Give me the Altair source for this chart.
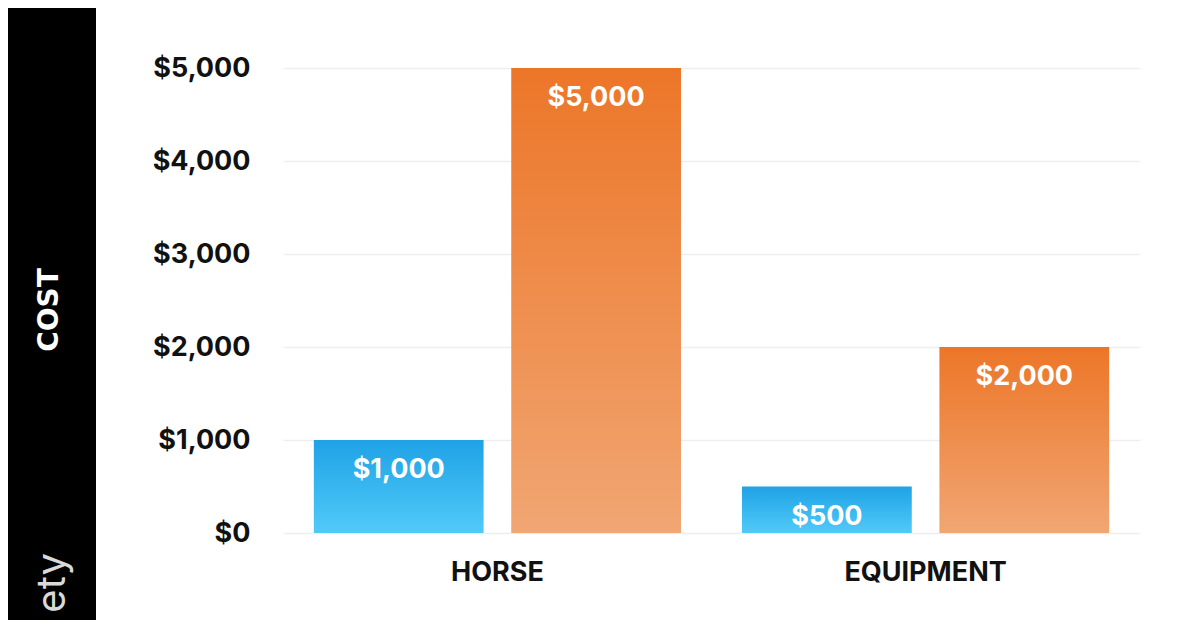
import altair as alt
import pandas as pd

categories = ["HORSE", "EQUIPMENT"]
series = ["Low", "High"]
low_values = [1000, 500]
high_values = [5000, 2000]

rows = []
for i, c in enumerate(categories):
    rows.append({"item": c, "level": series[0], "cost": low_values[i]})
    rows.append({"item": c, "level": series[1], "cost": high_values[i]})
df = pd.DataFrame(rows)

FONT = "Inter"

x_enc = alt.X("item:N", sort=categories,
              scale=alt.Scale(paddingInner=0.1425, paddingOuter=0.072),
              axis=alt.Axis(title=None, labelAngle=0, labelFont=FONT, labelFontSize=27,
                            labelFontWeight="bold", labelColor="#111", labelPadding=26,
                            ticks=False, domain=False))
xo_enc = alt.XOffset("level:N", sort=series,
                     scale=alt.Scale(paddingInner=0.14, paddingOuter=0))
y_enc = alt.Y("cost:Q", scale=alt.Scale(domain=[0, 5000]),
              axis=alt.Axis(title=None, values=[0, 1000, 2000, 3000, 4000, 5000],
                            format="$,.0f", labelFont=FONT, labelFontSize=27,
                            labelFontWeight="bold", labelColor="#111", labelPadding=33,
                            ticks=False, domain=False, gridColor="#eeeeee", gridWidth=1.5))

def grad(top, bottom):
    return alt.Gradient(gradient="linear", x1=0, x2=0, y1=0, y2=1,
                        stops=[alt.GradientStop(color=top, offset=0),
                               alt.GradientStop(color=bottom, offset=1)])

base = alt.Chart(df)

low_bars = base.transform_filter(alt.datum.level == series[0]).mark_bar(
    fill=grad("#1fa2e6", "#50caf8")).encode(x=x_enc, xOffset=xo_enc, y=y_enc)
high_bars = base.transform_filter(alt.datum.level == series[1]).mark_bar(
    fill=grad("#ec7628", "#f1a673")).encode(x=x_enc, xOffset=xo_enc, y=y_enc)

labels = base.mark_text(font=FONT, fontSize=27, fontWeight="bold", color="white",
                        baseline="middle", dy=30).encode(
    x=x_enc, xOffset=xo_enc, y=y_enc, text=alt.Text("cost:Q", format="$,.0f"))

strip = alt.Chart(pd.DataFrame({"a": [0]})).mark_rect(color="black").encode(
    x=alt.value(-275), x2=alt.value(-187), y=alt.value(-70), y2=alt.value(570))

cost_txt = alt.Chart(pd.DataFrame({"t": ["COST"]})).mark_text(
    font="DejaVu Sans", fontSize=28, fontWeight="bold", color="white", angle=270,
    align="center", baseline="middle").encode(
    text="t:N", x=alt.value(-233), y=alt.value(242))

ety_txt = alt.Chart(pd.DataFrame({"t": ["ety"]})).mark_text(
    font=FONT, fontSize=40, color="#d9d9d9", angle=270,
    align="right", baseline="middle").encode(
    text="t:N", x=alt.value(-230), y=alt.value(485))

chart = alt.layer(strip, cost_txt, ety_txt, low_bars, high_bars, labels).properties(
    width=857, height=465,
    autosize=alt.AutoSizeParams(type="none"),
    padding={"left": 275, "top": 60, "right": 48, "bottom": 87},
    background="white",
).configure_view(stroke=None)

chart.save("out.html", embed_options={"renderer": "svg", "actions": False})
